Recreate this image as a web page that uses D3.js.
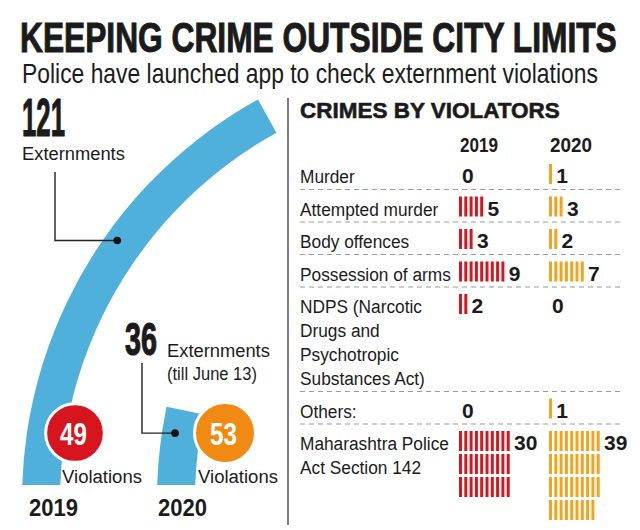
<!DOCTYPE html>
<html><head><meta charset="utf-8">
<script src="https://cdn.jsdelivr.net/npm/d3@7"></script>
<style>html,body{margin:0;padding:0;background:#fff;} svg{display:block;}</style>
</head><body><svg id="c" width="640" height="530"></svg>
<script>
// ---------- DATA ----------
const titleText = "KEEPING CRIME OUTSIDE CITY LIMITS";
const subtitleText = "Police have launched app to check externment violations";
const years = ["2019", "2020"];
const externments = [121, 36];
const externmentLabels = [["Externments"], ["Externments", "(till June 13)"]];
const violations = [49, 53];
const violationLabel = "Violations";
const tableTitle = "CRIMES BY VIOLATORS";
const crimeCategories = [
  ["Murder"],
  ["Attempted murder"],
  ["Body offences"],
  ["Possession of arms"],
  ["NDPS (Narcotic", "Drugs and", "Psychotropic", "Substances Act)"],
  ["Others:"],
  ["Maharashtra Police", "Act Section 142"]
];
const crimes2019 = [0, 5, 3, 9, 2, 0, 30];
const crimes2020 = [1, 3, 2, 7, 0, 1, 39];

// ---------- STYLE ----------
const FONT = "'Liberation Sans', Arial, 'DejaVu Sans', sans-serif";
const INK = "#1b1b1b";
const BLUE = "#4fb0dc";
const yearColors = ["#d7151f", "#f18a12"];
const tallyColors = ["#d7151f", "#f5a21d"];

const svg = d3.select("#c");

// text fitted horizontally to a width by scaling (keeps real text)
function fitText(x, y, str, width, size, weight, fill, anchor) {
  const t = svg.append("text")
    .attr("font-family", FONT).attr("font-size", size)
    .attr("font-weight", weight || 400).attr("fill", fill || INK)
    .attr("text-anchor", anchor || "start").text(str);
  const natural = t.node().getComputedTextLength();
  const sx = natural > 0 ? width / natural : 1;
  t.attr("transform", `translate(${x},${y}) scale(${sx},1)`);
  return t;
}

// Title & subtitle
fitText(20, 52, titleText, 597, 42, 700).attr("stroke", INK).attr("stroke-width", 1);
fitText(22, 83, subtitleText, 576, 27, 400);

// ---------- LEFT: arcs ----------
const center = d3.scaleOrdinal().domain(years).range([480, 615]);
const cy = 500;
const angle = d3.scaleLinear().domain([0, d3.max(externments)]).range([-1.73, -0.506]);
const rIn = 420, rOut = 458;
const arcGen = d3.arc().innerRadius(rIn).outerRadius(rOut);

svg.append("defs").append("clipPath").attr("id", "clipArc")
  .append("rect").attr("x", 0).attr("y", 0).attr("width", 288).attr("height", 485);

const arcG = svg.append("g").attr("clip-path", "url(#clipArc)");
years.forEach((y, i) => {
  arcG.append("path")
    .attr("transform", `translate(${center(y)},${cy})`)
    .attr("d", arcGen({startAngle: angle(0), endAngle: angle(externments[i])}))
    .attr("fill", BLUE);
});

// leader lines + dots
const leader = [
  {a: -0.95, r: 446, lx: 55, ty: 172},
  {a: -1.42, r: 445, lx: 142, ty: 363}
];
years.forEach((y, i) => {
  const L = leader[i];
  const dx = center(y) + L.r * Math.sin(L.a);
  const dy = cy - L.r * Math.cos(L.a);
  svg.append("path")
    .attr("d", `M${L.lx},${L.ty}V${dy}H${dx}`)
    .attr("fill", "none").attr("stroke", "#222").attr("stroke-width", 1.4);
  svg.append("circle").attr("cx", dx).attr("cy", dy).attr("r", 3.8).attr("fill", "#111");
});

// big numbers
fitText(22, 136, String(externments[0]), 43, 54, 700).attr("stroke", INK).attr("stroke-width", 1.2);
fitText(22, 160, externmentLabels[0][0], 103, 19, 400);
fitText(125, 355, String(externments[1]), 32, 46, 700).attr("stroke", INK).attr("stroke-width", 1.2);
externmentLabels[1].forEach((t, k) => {
  fitText(167, 357 + k * 23, t, k === 0 ? 103 : 90, 19, 400);
});

// violation circles
const rScale = d3.scaleSqrt().domain([0, d3.max(violations)]).range([0, 30.5]);
const circX = d3.scaleOrdinal().domain(years).range([75, 225]);
years.forEach((y, i) => {
  svg.append("circle").attr("cx", circX(y)).attr("cy", 433)
    .attr("r", rScale(violations[i]))
    .attr("fill", yearColors[i]).attr("stroke", "#fff").attr("stroke-width", 3);
  fitText(circX(y) - 1.5, 445, String(violations[i]), 27, 31, 700, "#fff", "middle");
  fitText([62, 198][i], 483, violationLabel, 80, 19, 400);
  fitText([29, 158][i], 516, y, 49, 23, 700);
});

// divider
svg.append("line").attr("x1", 288).attr("x2", 288).attr("y1", 98).attr("y2", 525)
  .attr("stroke", "#555").attr("stroke-width", 1.5);

// ---------- RIGHT: table ----------
fitText(300, 118, tableTitle, 260, 23, 700).attr("stroke", INK).attr("stroke-width", 0.6);

const colX = d3.scaleOrdinal().domain(years).range([459, 549]);
years.forEach((y, i) => {
  fitText(colX(y) + 1, 152, y, [38, 42][i], 20, 700);
});

const tallyX = d3.scaleLinear().domain([0, 10]).range([0, 53]);
const lineH = 24, rowGap = 6.5, firstSep = 157;
let sep = firstSep;
const series = [crimes2019, crimes2020];
crimeCategories.forEach((lines, r) => {
  const base = sep + 26;
  lines.forEach((t, k) => {
    svg.append("text")
      .attr("transform", `translate(300,${base + k * lineH}) scale(0.91,1)`)
      .attr("font-family", FONT).attr("font-size", 19)
      .attr("fill", INK).text(t);
  });
  years.forEach((y, i) => {
    const n = series[i][r];
    const x0 = colX(y);
    svg.append("g").selectAll("rect").data(d3.range(n)).join("rect")
      .attr("x", k => x0 + tallyX(k % 10))
      .attr("y", k => base - 19 + Math.floor(k / 10) * 23)
      .attr("width", 3).attr("height", 20)
      .attr("fill", tallyColors[i]);
    svg.append("text")
      .attr("x", x0 + tallyX(Math.min(n, 10)) + (n > 0 ? 2 : 3))
      .attr("y", base)
      .attr("font-family", FONT).attr("font-weight", 700).attr("font-size", 21)
      .attr("fill", INK).text(n);
  });
  const last = base + (lines.length - 1) * lineH;
  sep = last + rowGap;
  if (r < crimeCategories.length - 1) {
    svg.append("line").attr("x1", 300).attr("x2", 624)
      .attr("y1", sep).attr("y2", sep)
      .attr("stroke", "#9a9a9a").attr("stroke-width", 1.2)
      .attr("stroke-dasharray", "5,4");
  }
});
</script>
</body></html>
